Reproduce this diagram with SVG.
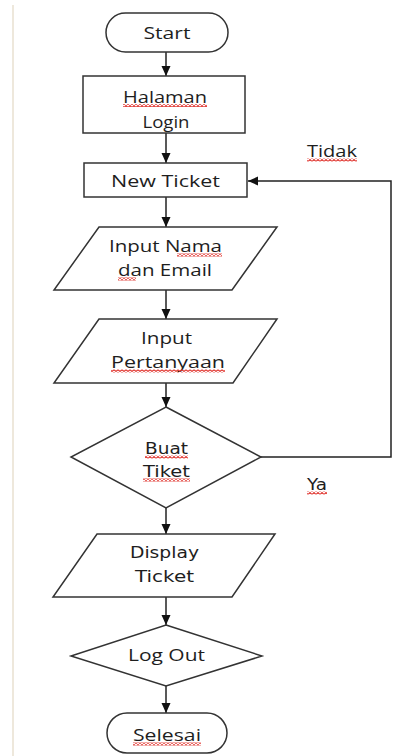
<svg xmlns="http://www.w3.org/2000/svg" width="398" height="756" viewBox="0 0 398 756">
<defs>
<marker id="ah" markerUnits="userSpaceOnUse" markerWidth="10" markerHeight="10" refX="10" refY="5" orient="auto">
<path d="M0,0.5 L10,5 L0,9.5 z" fill="#111"/>
</marker>
<pattern id="squig" patternUnits="userSpaceOnUse" width="4" height="3">
<path d="M0,2.5 L2,0.5 L4,2.5" fill="none" stroke="#e0302a" stroke-width="1.1"/>
</pattern>
</defs>
<style>
.sh{fill:#fff;stroke:#333;stroke-width:1.5}
.c{fill:none;stroke:#222;stroke-width:1.5}
.t{font-family:"Open Sans","Liberation Sans",sans-serif;font-size:16px;fill:#1e1e1e;text-anchor:middle}
.v{font-family:"DejaVu Sans","Liberation Sans",sans-serif;font-size:15px;fill:#1e1e1e;text-anchor:middle}
.sq{fill:url(#squig)}
</style>
<rect width="398" height="756" fill="#fff"/>
<line x1="13" y1="5" x2="13" y2="756" stroke="#eee8dc" stroke-width="2"/>

<g id="connectors">
<line class="c" x1="166" y1="52" x2="166" y2="76" marker-end="url(#ah)"/>
<line class="c" x1="166" y1="133" x2="166" y2="163" marker-end="url(#ah)"/>
<line class="c" x1="166" y1="197" x2="166" y2="227" marker-end="url(#ah)"/>
<line class="c" x1="166" y1="290" x2="166" y2="319" marker-end="url(#ah)"/>
<line class="c" x1="166" y1="383" x2="166" y2="407" marker-end="url(#ah)"/>
<line class="c" x1="166" y1="508" x2="166" y2="534" marker-end="url(#ah)"/>
<line class="c" x1="166" y1="597" x2="166" y2="625" marker-end="url(#ah)"/>
<line class="c" x1="166" y1="686" x2="166" y2="713" marker-end="url(#ah)"/>
<polyline class="c" points="261,457 391,457 391,181 248,181" marker-end="url(#ah)"/>
<text class="t" x="332" y="157" textLength="50" lengthAdjust="spacingAndGlyphs">Tidak</text>
<rect class="sq" x="307" y="158.5" width="50" height="3"/>
<text class="v" x="317" y="490" textLength="20" lengthAdjust="spacingAndGlyphs">Ya</text>
<rect class="sq" x="307" y="491.5" width="20" height="3"/>
</g>

<g id="start">
<rect class="sh" x="106" y="13" width="122" height="39" rx="19.5"/>
<text class="t" x="167" y="39" textLength="47" lengthAdjust="spacingAndGlyphs">Start</text>
</g>

<g id="halaman-login">
<rect class="sh" x="83" y="76" width="162" height="57"/>
<text class="t" x="165" y="103" textLength="84" lengthAdjust="spacingAndGlyphs">Halaman</text>
<rect class="sq" x="123" y="104" width="84" height="3"/>
<text class="t" x="166" y="128" textLength="47" lengthAdjust="spacingAndGlyphs">Login</text>
</g>

<g id="new-ticket">
<rect class="sh" x="84" y="163" width="163" height="34"/>
<text class="t" x="165.5" y="187" textLength="109" lengthAdjust="spacingAndGlyphs">New Ticket</text>
</g>

<g id="input-nama">
<polygon class="sh" points="99,227 277,227 232,290 54,290"/>
<text class="t" x="165.5" y="252" textLength="113" lengthAdjust="spacingAndGlyphs">Input Nama</text>
<rect class="sq" x="177" y="253.5" width="45" height="3"/>
<text class="t" x="165" y="276" textLength="94" lengthAdjust="spacingAndGlyphs">dan Email</text>
<rect class="sq" x="118" y="277.5" width="18" height="3"/>
</g>

<g id="input-pertanyaan">
<polygon class="sh" points="99,319 277,319 233,383 54,383"/>
<text class="t" x="166.5" y="344" textLength="51" lengthAdjust="spacingAndGlyphs">Input</text>
<text class="t" x="168" y="368" textLength="114" lengthAdjust="spacingAndGlyphs">Pertanyaan</text>
<rect class="sq" x="111" y="369.5" width="114" height="3"/>
</g>

<g id="buat-tiket">
<polygon class="sh" points="166,407 261,457 166,508 71,457"/>
<text class="v" x="166.5" y="454" textLength="43" lengthAdjust="spacingAndGlyphs">Buat</text>
<rect class="sq" x="145" y="455.5" width="43" height="3"/>
<text class="v" x="166.5" y="477" textLength="47" lengthAdjust="spacingAndGlyphs">Tiket</text>
<rect class="sq" x="143" y="478.5" width="47" height="3"/>
</g>

<g id="display-ticket">
<polygon class="sh" points="97,534 275,534 232,597 53,597"/>
<text class="v" x="164.5" y="558" textLength="69" lengthAdjust="spacingAndGlyphs">Display</text>
<text class="v" x="164.5" y="582" textLength="59" lengthAdjust="spacingAndGlyphs">Ticket</text>
</g>

<g id="log-out">
<polygon class="sh" points="166,625 262,656 166,686 71,656"/>
<text class="t" x="166.5" y="661" textLength="77" lengthAdjust="spacingAndGlyphs">Log Out</text>
</g>

<g id="selesai">
<rect class="sh" x="107" y="713" width="120" height="40" rx="20"/>
<text class="t" x="167" y="741" textLength="68" lengthAdjust="spacingAndGlyphs">Selesai</text>
<rect class="sq" x="133" y="742.5" width="68" height="3"/>
</g>
</svg>
